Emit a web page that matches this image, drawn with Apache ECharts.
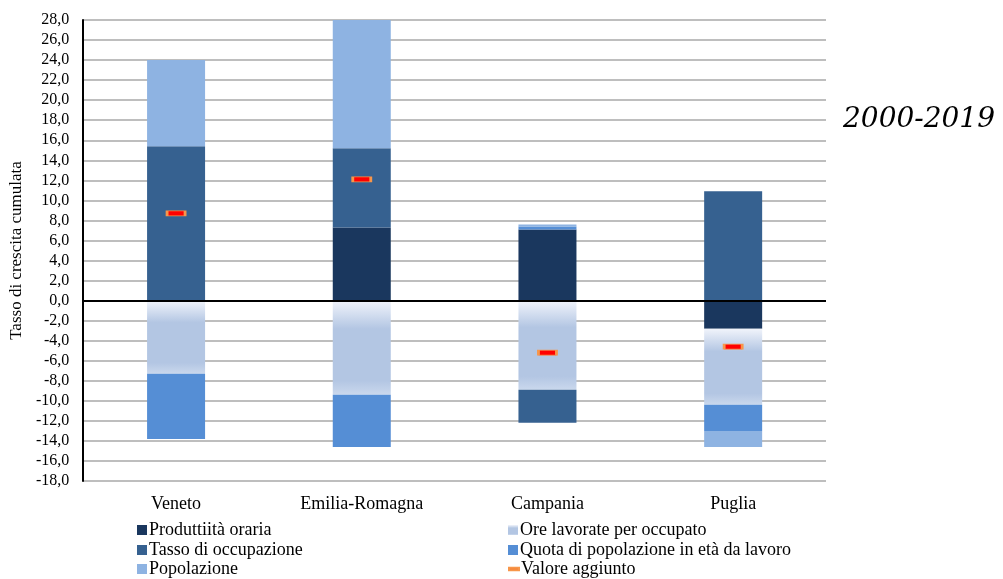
<!DOCTYPE html>
<html>
<head>
<meta charset="utf-8">
<script src="https://cdn.jsdelivr.net/npm/echarts@6/dist/echarts.min.js"></script>
<style>
html,body{margin:0;padding:0;background:#fff;}
#c{width:1003px;height:579px;}
</style>
</head>
<body>
<div id="c"></div>
<script>
var categories = ['Veneto', 'Emilia-Romagna', 'Campania', 'Puglia'];
var produttivita = [0, 7.3, 7.1, -2.8];
var oreLavorate = [-7.3, -9.4, -8.9, -7.6];
var tassoOccupazione = [15.4, 7.9, -3.3, 10.9];
var quotaPopolazione = [-6.5, -5.2, 0.3, -2.6];
var popolazione = [8.6, 12.8, 0.2, -1.6];
var valoreAggiunto = [8.7, 12.1, -5.2, -4.6];
var yMin = -18, yMax = 28, yStep = 2;
var periodLabel = '2000-2019';
var seriesNames = ['Produttiità oraria', 'Ore lavorate per occupato', 'Tasso di occupazione',
  'Quota di popolazione in età da lavoro', 'Popolazione', 'Valore aggiunto'];

var FONT = '"Liberation Serif", "DejaVu Serif", serif';
var chart = echarts.init(document.getElementById('c'), null, {renderer: 'canvas'});
var oreGrad = new echarts.graphic.LinearGradient(0, 0, 0, 1, [
  {offset: 0, color: '#f1f4fb'},
  {offset: 0.3, color: '#b3c6e3'},
  {offset: 0.85, color: '#b3c6e3'},
  {offset: 1, color: '#cad8ed'}
]);
var BW = 58;
function barSeries(name, data, color, extra) {
  var s = {
    name: name, type: 'bar', stack: 'total', data: data, barWidth: BW,
    itemStyle: {color: color}, emphasis: {disabled: true}, animation: false
  };
  if (extra) for (var k in extra) s[k] = extra[k];
  return s;
}
function oneLegend(name, left, cy, icon, color) {
  var item = {name: name, icon: icon || 'rect'};
  if (color) item.itemStyle = {color: color};
  return {
    orient: 'horizontal', left: left, top: cy - 10, padding: 0, itemGap: 0,
    itemWidth: 10, itemHeight: 10, selectedMode: false,
    textStyle: {fontFamily: FONT, fontSize: 18, color: '#000', padding: [0, 0, 0, -3], lineHeight: 20},
    data: [item]
  };
}
var option = {
  backgroundColor: '#ffffff',
  animation: false,
  textStyle: {fontFamily: FONT},
  title: {
    text: periodLabel, left: 843, top: 106, padding: 0,
    textStyle: {fontFamily: '"DejaVu Serif", serif', fontStyle: 'italic', fontWeight: 'normal', fontSize: 28, color: '#000'}
  },
  grid: {left: 83, right: 177, top: 20, bottom: 98, containLabel: false},
  legend: [
    oneLegend(seriesNames[0], 137, 530),
    oneLegend(seriesNames[2], 137, 550),
    oneLegend(seriesNames[4], 137, 569),
    oneLegend(seriesNames[1], 508, 530),
    oneLegend(seriesNames[3], 508, 550),
    oneLegend(seriesNames[5], 508, 569, 'path://M0,4L10,4L10,6.5L0,6.5Z', '#f26b21')
  ],
  xAxis: {
    type: 'category', data: categories,
    axisLine: {show: false, onZero: false},
    axisTick: {show: false},
    axisLabel: {fontFamily: FONT, fontSize: 18, color: '#000', margin: 14},
    splitLine: {show: false}
  },
  yAxis: {
    type: 'value', min: yMin, max: yMax, interval: yStep,
    name: 'Tasso di crescita cumulata', nameLocation: 'middle', nameGap: 53, nameRotate: 90,
    nameTextStyle: {fontFamily: FONT, fontSize: 17, color: '#000'},
    axisLine: {show: true, lineStyle: {color: '#000', width: 2}},
    axisTick: {show: false},
    axisLabel: {fontFamily: FONT, fontSize: 16, color: '#000', margin: 14,
      formatter: function (v) { return v.toFixed(1).replace('.', ','); }},
    splitLine: {show: true, lineStyle: {color: '#a8a8a8', width: 1.5}}
  },
  series: [
    barSeries(seriesNames[0], produttivita, '#1a375e', {
      markLine: {
        silent: true, symbol: ['none', 'none'], label: {show: false},
        lineStyle: {color: '#000', width: 2, type: 'solid'},
        emphasis: {disabled: true},
        data: [{yAxis: 0}], z: 5
      }
    }),
    barSeries(seriesNames[1], oreLavorate, oreGrad),
    barSeries(seriesNames[2], tassoOccupazione, '#366190'),
    barSeries(seriesNames[3], quotaPopolazione, '#558ed5'),
    barSeries(seriesNames[4], popolazione, '#8eb3e2'),
    {
      name: seriesNames[5], type: 'scatter', data: valoreAggiunto,
      symbol: 'rect', symbolSize: [18, 5], z: 10,
      itemStyle: {color: '#ff0000', borderColor: '#f7964a', borderWidth: 1.5, opacity: 1},
      emphasis: {disabled: true}, animation: false
    }
  ]
};
chart.setOption(option);
</script>
</body>
</html>
